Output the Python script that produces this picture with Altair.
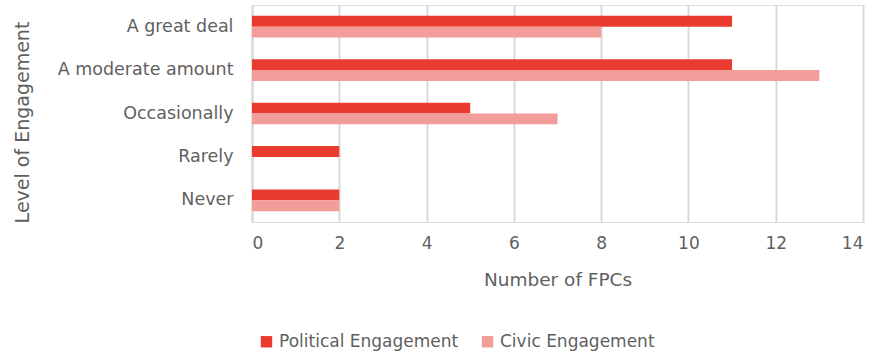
import altair as alt
import pandas as pd

levels = ["A great deal", "A moderate amount", "Occasionally", "Rarely", "Never"]
political = [11, 11, 5, 2, 2]
civic = [8, 13, 7, 0, 2]
series = ["Political Engagement", "Civic Engagement"]
colors = ["#EA3B31", "#F29D9A"]

rows = []
for i, lv in enumerate(levels):
    rows.append({"level": lv, "series": series[0], "value": political[i]})
    rows.append({"level": lv, "series": series[1], "value": civic[i]})
df = pd.DataFrame(rows)

FONT = "DejaVu Sans"
TXT = "#5f5f5f"

chart = alt.Chart(df).mark_bar().encode(
    x=alt.X("value:Q", scale=alt.Scale(domain=[0, 14], nice=False),
            axis=alt.Axis(values=list(range(0, 15, 2)), title="Number of FPCs",
                          grid=True, gridColor="#d9d9d9", gridWidth=2,
                          domain=False, ticks=False, labelPadding=13,
                          labelFontSize=17, labelColor=TXT, labelFont=FONT,
                          titleFontSize=18.5, titleColor=TXT, titleFont=FONT,
                          titleFontWeight="normal", titlePadding=19)),
    y=alt.Y("level:N", sort=levels,
            scale=alt.Scale(paddingInner=0.5, paddingOuter=0.25),
            axis=alt.Axis(title="Level of Engagement", domain=True, domainColor="#d9d9d9",
                          domainWidth=2, ticks=False, labelPadding=19,
                          labelFontSize=17.5, labelColor=TXT, labelFont=FONT,
                          titleFontSize=19, titleColor=TXT, titleFont=FONT,
                          titleFontWeight="normal", titleX=-220, titleY=117)),
    yOffset=alt.YOffset("series:N", sort=series),
    color=alt.Color("series:N", sort=series,
                    scale=alt.Scale(domain=series, range=colors),
                    legend=alt.Legend(title=None, orient="none", direction="horizontal",
                                      legendX=6, legendY=328, symbolType="square",
                                      symbolSize=130, symbolStrokeWidth=0,
                                      labelFontSize=17, labelColor=TXT, labelFont=FONT,
                                      labelLimit=400, columnPadding=20)),
).properties(
    width=611, height=217,
    autosize=alt.AutoSizeParams(type="none"),
    padding={"left": 252, "top": 5, "right": 18, "bottom": 132},
).configure_view(stroke=None).configure(background="white")

chart.save("out.html", embed_options={"renderer": "svg", "actions": False})
